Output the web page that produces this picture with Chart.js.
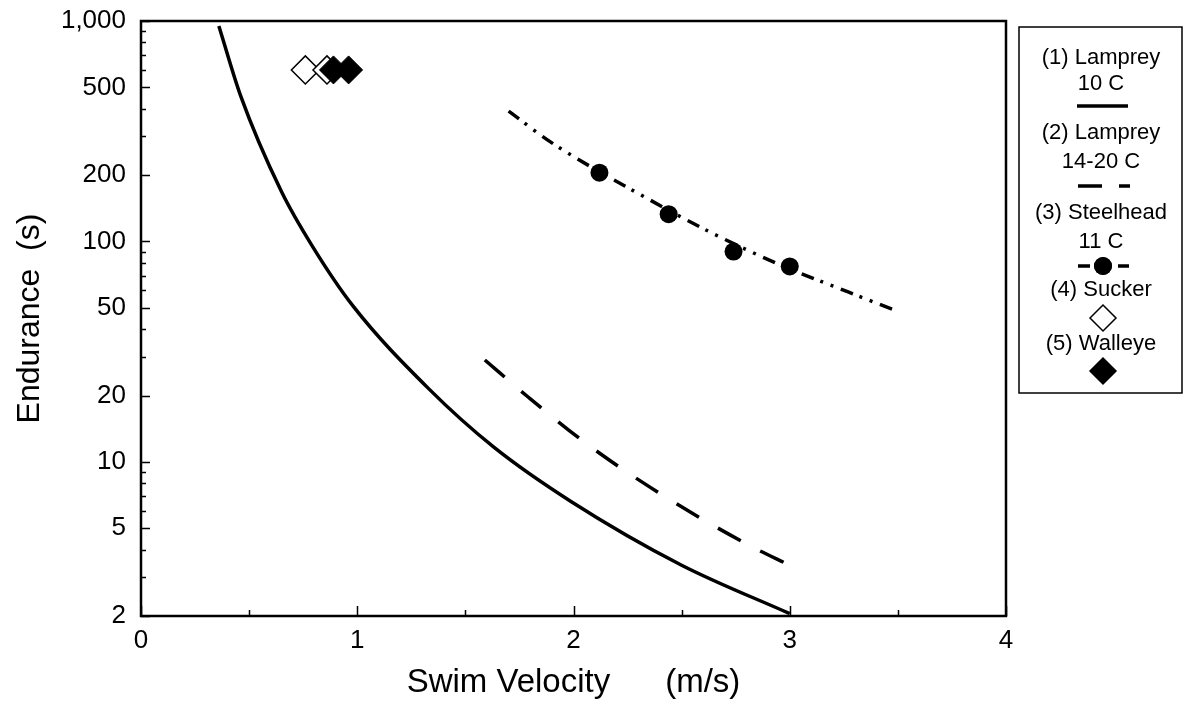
<!DOCTYPE html>
<html><head><meta charset="utf-8">
<script src="https://cdn.jsdelivr.net/npm/chart.js@4/dist/chart.umd.min.js"></script>
<style>html,body{margin:0;padding:0;background:#fff;}</style>
</head><body>
<canvas id="c" width="1186" height="707"></canvas>
<script>
// ---- data ----
const lamprey10V = [0.36, 0.46, 0.65, 0.79, 0.98, 1.33, 1.63, 1.99, 2.5, 3.0];
const lamprey10E = [950, 460, 168, 96, 51, 21.5, 11.7, 6.6, 3.4, 2.05];
const lamprey1420V = [1.59, 1.79, 2.08, 2.45, 2.83, 3.0];
const lamprey1420E = [29, 19.7, 11.7, 6.7, 4.1, 3.4];
const steelheadLineV = [1.70, 1.9, 2.3, 2.65, 2.96, 3.27, 3.48];
const steelheadLineE = [390, 280, 165, 108, 78, 59, 49];
const steelheadV = [2.12, 2.44, 2.74, 3.0];
const steelheadE = [205, 133, 90, 77];
const suckerV = [0.76, 0.86];
const suckerE = [600, 600];
const walleyeV = [0.89, 0.96];
const walleyeE = [600, 600];
const yTickValues = [2, 5, 10, 20, 50, 100, 200, 500, 1000];
const xTickValues = [0, 1, 2, 3, 4];
const legendLabels = [["(1) Lamprey", "10 C"], ["(2) Lamprey", "14-20 C"], ["(3) Steelhead", "11 C"], ["(4) Sucker"], ["(5) Walleye"]];

const FONT = "'Liberation Sans', Arial, Helvetica, sans-serif";
Chart.defaults.font.family = FONT;
Chart.defaults.color = '#000';

function pts(xs, ys) { return xs.map((x, i) => ({ x: x, y: ys[i] })); }

const frameTicks = {
  id: 'frameTicks',
  afterDatasetsDraw(chart) {
    const ctx = chart.ctx, a = chart.chartArea;
    const xs = chart.scales.x, ys = chart.scales.y;
    ctx.save();
    ctx.strokeStyle = '#000';
    ctx.lineWidth = 2.5;
    ctx.strokeRect(a.left, a.top, a.right - a.left, a.bottom - a.top);
    ctx.lineWidth = 1.5;
    ctx.beginPath();
    for (let d = 1; d <= 1000; d *= 10) {
      for (let m = 1; m <= 9; m++) {
        const v = m * d;
        if (v < 2 || v > 1000) continue;
        const py = Math.round(ys.getPixelForValue(v)) + 0.5;
        const len = yTickValues.includes(v) ? 9 : 5;
        ctx.moveTo(a.left, py); ctx.lineTo(a.left + len, py);
      }
    }
    for (let v = 0; v <= 4; v += 0.5) {
      const px = Math.round(xs.getPixelForValue(v)) + 0.5;
      const len = Number.isInteger(v) ? 10 : 6;
      ctx.moveTo(px, a.bottom); ctx.lineTo(px, a.bottom - len);
    }
    ctx.stroke();
    ctx.restore();
  }
};

const customLegend = {
  id: 'customLegend',
  afterDraw(chart) {
    const ctx = chart.ctx;
    const ds = chart.data.datasets;
    const bx = 1019, by = 27, bw = 163, bh = 366, cx = 1101;
    ctx.save();
    ctx.strokeStyle = '#000';
    ctx.lineWidth = 1.5;
    ctx.strokeRect(bx, by, bw, bh);
    ctx.fillStyle = '#000';
    ctx.font = '22px ' + FONT;
    ctx.textAlign = 'center';
    ctx.textBaseline = 'middle';
    const textY = [[58, 84], [133, 162], [213, 242], [290], [344]];
    legendLabels.forEach((lines, i) => lines.forEach((t, j) => ctx.fillText(t, cx, textY[i][j])));
    // sample 1: solid line
    ctx.lineWidth = ds[0].borderWidth;
    ctx.strokeStyle = ds[0].borderColor;
    ctx.beginPath(); ctx.moveTo(1077, 106); ctx.lineTo(1128, 106); ctx.stroke();
    // sample 2: dashed line
    ctx.lineWidth = ds[1].borderWidth;
    ctx.beginPath(); ctx.moveTo(1078, 186); ctx.lineTo(1102, 186);
    ctx.moveTo(1119, 186); ctx.lineTo(1130, 186); ctx.stroke();
    // sample 3: dash, circle, dash
    ctx.beginPath(); ctx.moveTo(1078, 266); ctx.lineTo(1090, 266);
    ctx.moveTo(1118, 266); ctx.lineTo(1129, 266); ctx.stroke();
    Chart.helpers.drawPoint(ctx, { pointStyle: 'circle', radius: ds[3].pointRadius, borderWidth: 0 }, 1103, 266);
    ctx.fillStyle = '#000'; ctx.fill();
    // sample 4: open diamond
    ctx.fillStyle = '#fff'; ctx.strokeStyle = '#000'; ctx.lineWidth = ds[4].borderWidth;
    Chart.helpers.drawPoint(ctx, { pointStyle: 'rectRot', radius: 13, borderWidth: ds[4].borderWidth }, 1103, 318);
    // sample 5: filled diamond
    ctx.fillStyle = '#000';
    Chart.helpers.drawPoint(ctx, { pointStyle: 'rectRot', radius: 13, borderWidth: 1 }, 1103, 371);
    ctx.restore();
  }
};

new Chart(document.getElementById('c'), {
  type: 'scatter',
  data: {
    datasets: [
      { label: '(1) Lamprey 10 C', data: pts(lamprey10V, lamprey10E), showLine: true, borderColor: '#000', borderWidth: 3.5, pointRadius: 0, cubicInterpolationMode: 'monotone', order: 5 },
      { label: '(2) Lamprey 14-20 C', data: pts(lamprey1420V, lamprey1420E), showLine: true, borderColor: '#000', borderWidth: 3.5, borderDash: [26, 22], pointRadius: 0, cubicInterpolationMode: 'monotone', order: 4 },
      { label: '(3) Steelhead 11 C fit', data: pts(steelheadLineV, steelheadLineE), showLine: true, borderColor: '#000', borderWidth: 3.5, borderDash: [13, 7, 3, 8, 3, 8], pointRadius: 0, cubicInterpolationMode: 'monotone', order: 3 },
      { label: '(3) Steelhead 11 C', data: pts(steelheadV, steelheadE), showLine: false, pointStyle: 'circle', pointRadius: 9, backgroundColor: '#000', borderColor: '#000', borderWidth: 0, order: 2 },
      { label: '(4) Sucker', data: pts(suckerV, suckerE), showLine: false, pointStyle: 'rectRot', pointRadius: 14, backgroundColor: '#fff', borderColor: '#000', borderWidth: 1.5, order: 1 },
      { label: '(5) Walleye', data: pts(walleyeV, walleyeE), showLine: false, pointStyle: 'rectRot', pointRadius: 14, backgroundColor: '#000', borderColor: '#000', borderWidth: 1, order: 0 }
    ]
  },
  options: {
    responsive: false,
    animation: false,
    devicePixelRatio: 1,
    layout: { padding: { left: 0, right: 180, top: 21, bottom: 0 } },
    plugins: { legend: { display: false }, tooltip: { enabled: false } },
    scales: {
      x: {
        type: 'linear', min: 0, max: 4,
        afterBuildTicks: s => { s.ticks = xTickValues.map(v => ({ value: v })); },
        afterFit: s => { s.height = 91; s.paddingLeft = 0; s.paddingRight = 0; },
        grid: { display: false, drawTicks: false },
        border: { display: false },
        ticks: { font: { size: 26 }, color: '#000', padding: 9, autoSkip: false, maxRotation: 0 },
        title: { display: true, text: 'Swim Velocity      (m/s)', font: { size: 33 }, color: '#000', padding: { top: 0, bottom: 4 } }
      },
      y: {
        type: 'logarithmic', min: 2, max: 1000,
        afterBuildTicks: s => { s.ticks = yTickValues.map(v => ({ value: v })); },
        afterFit: s => { s.width = 141; s.paddingTop = 0; s.paddingBottom = 0; },
        grid: { display: false, drawTicks: false },
        border: { display: false },
        ticks: { font: { size: 26 }, color: '#000', padding: 15, autoSkip: false,
          callback: v => Number(v).toLocaleString('en-US') },
        title: { display: true, text: 'Endurance  (s)', font: { size: 32 }, color: '#000', padding: { top: 11, bottom: 0 } }
      }
    }
  },
  plugins: [frameTicks, customLegend]
});
</script>
</body></html>
